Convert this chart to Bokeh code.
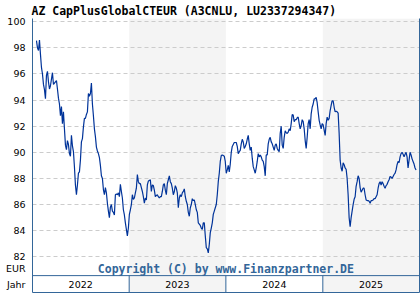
import pandas as pd
from bokeh.plotting import figure
from bokeh.models import (Range1d, FixedTicker, LinearAxis, CustomJSTickFormatter,
                          ColumnDataSource)
from bokeh.embed import file_html
from bokeh.resources import INLINE
from bokeh.core.properties import value

# ---------------- data ----------------
title_text = "AZ CapPlusGlobalCTEUR (A3CNLU, LU2337294347)"
copyright_text = "Copyright (C) by www.Finanzpartner.DE"
years = [2022, 2023, 2024, 2025]
y_ticks = [82, 84, 86, 88, 90, 92, 94, 96, 98, 100]
unit_label = "EUR"
year_label = "Jahr"
start_date = "2022-01-16"
end_date = "2025-12-19"
prices = [
    98.55, 98.0, 97.8, 98.6, 97.5, 96.5, 96.0, 95.2, 94.8, 94.1,
    95.9, 96.2, 95.4, 94.85, 95.1, 95.6, 96.1, 95.2, 95.3, 95.4,
    95.5, 94.85, 94.15, 93.7, 92.8, 93.5, 92.2, 93.1, 91.8, 90.55,
    90.2, 90.9, 90.6, 89.9, 89.7, 91.3, 90.5, 90.05, 88.9, 87.5,
    86.75, 87.5, 88.4, 88.5, 89.4, 90.8, 91.05, 91.95, 92.6, 92.6,
    92.9, 93.1, 94.5, 94.3, 94.5, 95.3, 93.7, 92.8, 91.8, 91.2,
    90.4, 90.1, 89.9, 89.6, 89.0, 88.2, 88.0, 87.15, 86.75, 87.3,
    86.9, 86.1, 85.5, 85.0, 85.8, 86.0, 85.5, 85.4, 85.2, 86.75,
    86.8, 86.75, 86.9, 86.6, 87.55, 87.0, 86.5, 85.6, 85.2, 84.6,
    84.1, 83.6, 84.2, 85.25, 85.6, 86.0, 86.75, 86.4, 86.5, 86.9,
    87.25, 88.3, 87.75, 87.6, 87.6, 87.3, 87.0, 86.6, 86.1, 86.5,
    86.35, 87.5, 87.8, 87.85, 87.9, 87.0, 87.5, 87.45, 87.1, 86.6,
    86.7, 86.75, 86.6, 86.5, 86.6, 86.6, 87.0, 87.5, 87.6, 87.1,
    86.75, 87.6, 87.9, 88.2, 87.75, 87.6, 87.25, 86.75, 87.0, 87.45,
    87.25, 86.9, 85.75, 86.5, 86.75, 86.6, 86.9, 87.0, 87.2, 86.6,
    86.25, 86.0, 85.4, 85.1, 85.75, 86.0, 86.45, 86.3, 86.35, 86.0,
    85.6, 85.4, 84.6, 84.5, 84.4, 84.2, 84.1, 84.6, 84.6, 83.6,
    82.7, 82.6, 82.3, 82.95, 83.85, 84.2, 84.6, 85.25, 85.5, 85.75,
    86.0, 86.75, 87.75, 88.4, 89.3, 89.75, 89.8, 89.75, 89.7, 89.3,
    88.4, 88.65, 89.0, 88.5, 89.1, 90.0, 90.45, 90.6, 90.75, 90.75,
    90.75, 90.45, 89.9, 90.05, 90.15, 90.65, 91.0, 90.8, 90.3, 90.45,
    90.65, 91.0, 91.3, 90.65, 90.15, 90.4, 89.55, 88.9, 88.65, 88.4,
    88.8, 89.3, 89.9, 89.65, 89.8, 89.65, 89.4, 89.3, 88.9, 88.2,
    89.8, 89.8, 90.65, 91.0, 91.15, 90.8, 90.65, 90.4, 90.15, 90.55,
    90.65, 90.3, 90.15, 90.05, 91.45, 92.0, 90.55, 90.3, 91.15, 91.65,
    91.5, 91.45, 91.55, 91.8, 91.65, 92.2, 92.9, 92.85, 92.35, 92.5,
    92.5, 92.65, 92.7, 92.2, 91.8, 92.05, 92.5, 92.35, 91.8, 90.9,
    90.3, 91.15, 92.2, 92.5, 91.8, 92.95, 93.45, 93.7, 94.1, 94.1,
    94.2, 93.8, 93.1, 92.45, 92.1, 91.8, 92.2, 92.1, 91.7, 91.3,
    92.2, 92.7, 92.45, 92.6, 93.2, 93.6, 93.95, 93.95, 93.45, 93.1,
    93.15, 93.1, 93.0, 91.45, 89.4, 88.8, 88.55, 89.2, 89.05, 88.8,
    88.7, 88.0, 86.75, 85.0, 84.3, 85.0, 85.5, 86.0, 86.4, 86.6,
    87.4, 87.75, 88.2, 88.0, 87.3, 86.95, 87.1, 87.25, 87.25, 86.75,
    86.35, 86.3, 86.3, 86.25, 86.1, 86.3, 86.3, 86.35, 86.45, 86.45,
    86.6, 86.75, 87.25, 87.6, 87.75, 87.5, 87.75, 87.6, 87.4, 87.25,
    87.45, 87.55, 87.75, 87.9, 88.15, 88.1, 88.0, 88.15, 88.3, 88.4,
    88.65, 89.05, 89.3, 89.2, 89.65, 89.9, 90.0, 89.85, 89.65, 89.85,
    90.0, 89.65, 88.8, 89.4, 90.0, 89.8, 89.5, 89.3, 89.1, 88.8,
    88.65,
]

# ---------------- styles ----------------
LINE_COLOR = "#003399"
FRAME_COLOR = "#336699"
BAND_COLOR = "#f4f4f4"
GRID_COLOR = "#cccccc"

Y_MIN, Y_MAX = 79.262, 100.25
Y_JAHR, Y_EUR, Y_SEP = 79.9, 81.1, 80.555

dates = pd.date_range(start_date, end_date, periods=len(prices))
year_start = [pd.Timestamp(f"{y}-01-01") for y in years]
year_end = [pd.Timestamp(f"{y + 1}-01-01") for y in years]
year_mid = [pd.Timestamp(f"{y}-07-02") for y in years]

p = figure(width=420, height=300, output_backend="svg", toolbar_location=None,
           x_range=Range1d(year_start[0], year_end[-1]),
           y_range=Range1d(Y_MIN, Y_MAX),
           min_border_left=32, min_border_right=1, min_border_top=16,
           min_border_bottom=8, background_fill_color="white",
           border_fill_color="white", title=title_text)
p.outline_line_color = None
p.xgrid.visible = False

# title
p.title.text_font = "DejaVu Sans Mono"
p.title.text_font_style = "bold"
p.title.text_font_size = "11.5px"
p.title.text_color = "black"
p.title.align = "left"
p.title.offset = -1
p.title.standoff = 2
p.title.text_line_height = 1.0

# alternating year bands
shaded = [i % 2 == 1 for i in range(len(years))]
band_src = ColumnDataSource(dict(
    left=[s for s, f in zip(year_start, shaded) if f],
    right=[e for e, f in zip(year_end, shaded) if f]))
bands = p.quad(left="left", right="right", bottom=Y_MIN, top=Y_MAX, source=band_src,
               fill_color=BAND_COLOR, line_color=None)
bands.level = "image"

# y grid
p.ygrid.ticker = FixedTicker(ticks=y_ticks)
p.ygrid.grid_line_color = GRID_COLOR
p.ygrid.grid_line_dash = "4 3"
p.ygrid.grid_line_width = 1

# y axis
p.yaxis.ticker = FixedTicker(ticks=[Y_JAHR, Y_EUR] + y_ticks)
p.yaxis.formatter = CustomJSTickFormatter(
    args=dict(jahr=year_label, eur=unit_label),
    code="if (tick < 80.5) { return jahr; } if (tick < 81.5) { return eur; } return tick.toFixed(0);")
p.yaxis.axis_line_color = FRAME_COLOR
p.yaxis.axis_line_width = 1
p.yaxis.major_tick_line_color = None
p.yaxis.minor_tick_line_color = None
p.yaxis.major_tick_out = 0
p.yaxis.major_tick_in = 0
p.yaxis.major_label_standoff = 7
p.yaxis.major_label_text_font = "DejaVu Sans"
p.yaxis.major_label_text_font_size = "9.5px"
p.yaxis.major_label_text_color = "black"

# x axis (only its line as bottom frame)
p.xaxis.ticker = FixedTicker(ticks=[])
p.xaxis.axis_line_color = FRAME_COLOR
p.xaxis.major_tick_line_color = None
p.xaxis.minor_tick_line_color = None
p.xaxis.major_label_text_font_size = "0px"
p.xaxis.major_tick_out = 0

# right frame
ra = LinearAxis(ticker=FixedTicker(ticks=[]), axis_line_color=FRAME_COLOR,
                major_tick_line_color=None, minor_tick_line_color=None,
                major_label_text_font_size="0px", major_tick_out=0,
                major_label_standoff=0)
p.add_layout(ra, "right")

# year row separators
p.segment(x0=[year_start[0]], y0=[Y_SEP], x1=[year_end[-1]], y1=[Y_SEP],
          line_color=FRAME_COLOR, line_width=1)
p.segment(x0=year_start[1:], y0=[Y_MIN] * (len(years) - 1),
          x1=year_start[1:], y1=[Y_SEP] * (len(years) - 1),
          line_color=FRAME_COLOR, line_width=1)

# year labels
p.text(x=year_mid, y=[Y_JAHR] * len(years), text=[str(y) for y in years],
       text_align="center", text_baseline="middle",
       text_font=value("DejaVu Sans"), text_font_size="9.5px", text_color="black")

# copyright
p.text(x=[pd.Timestamp("2024-01-01")], y=[Y_EUR], text=[copyright_text],
       text_align="center", text_baseline="middle",
       text_font=value("DejaVu Sans Mono"), text_font_style="bold",
       text_font_size="11.5px", text_color=FRAME_COLOR)

# price line
p.line(dates, prices, line_color=LINE_COLOR, line_width=1.2)

open("out.html", "w").write(file_html(p, INLINE))
